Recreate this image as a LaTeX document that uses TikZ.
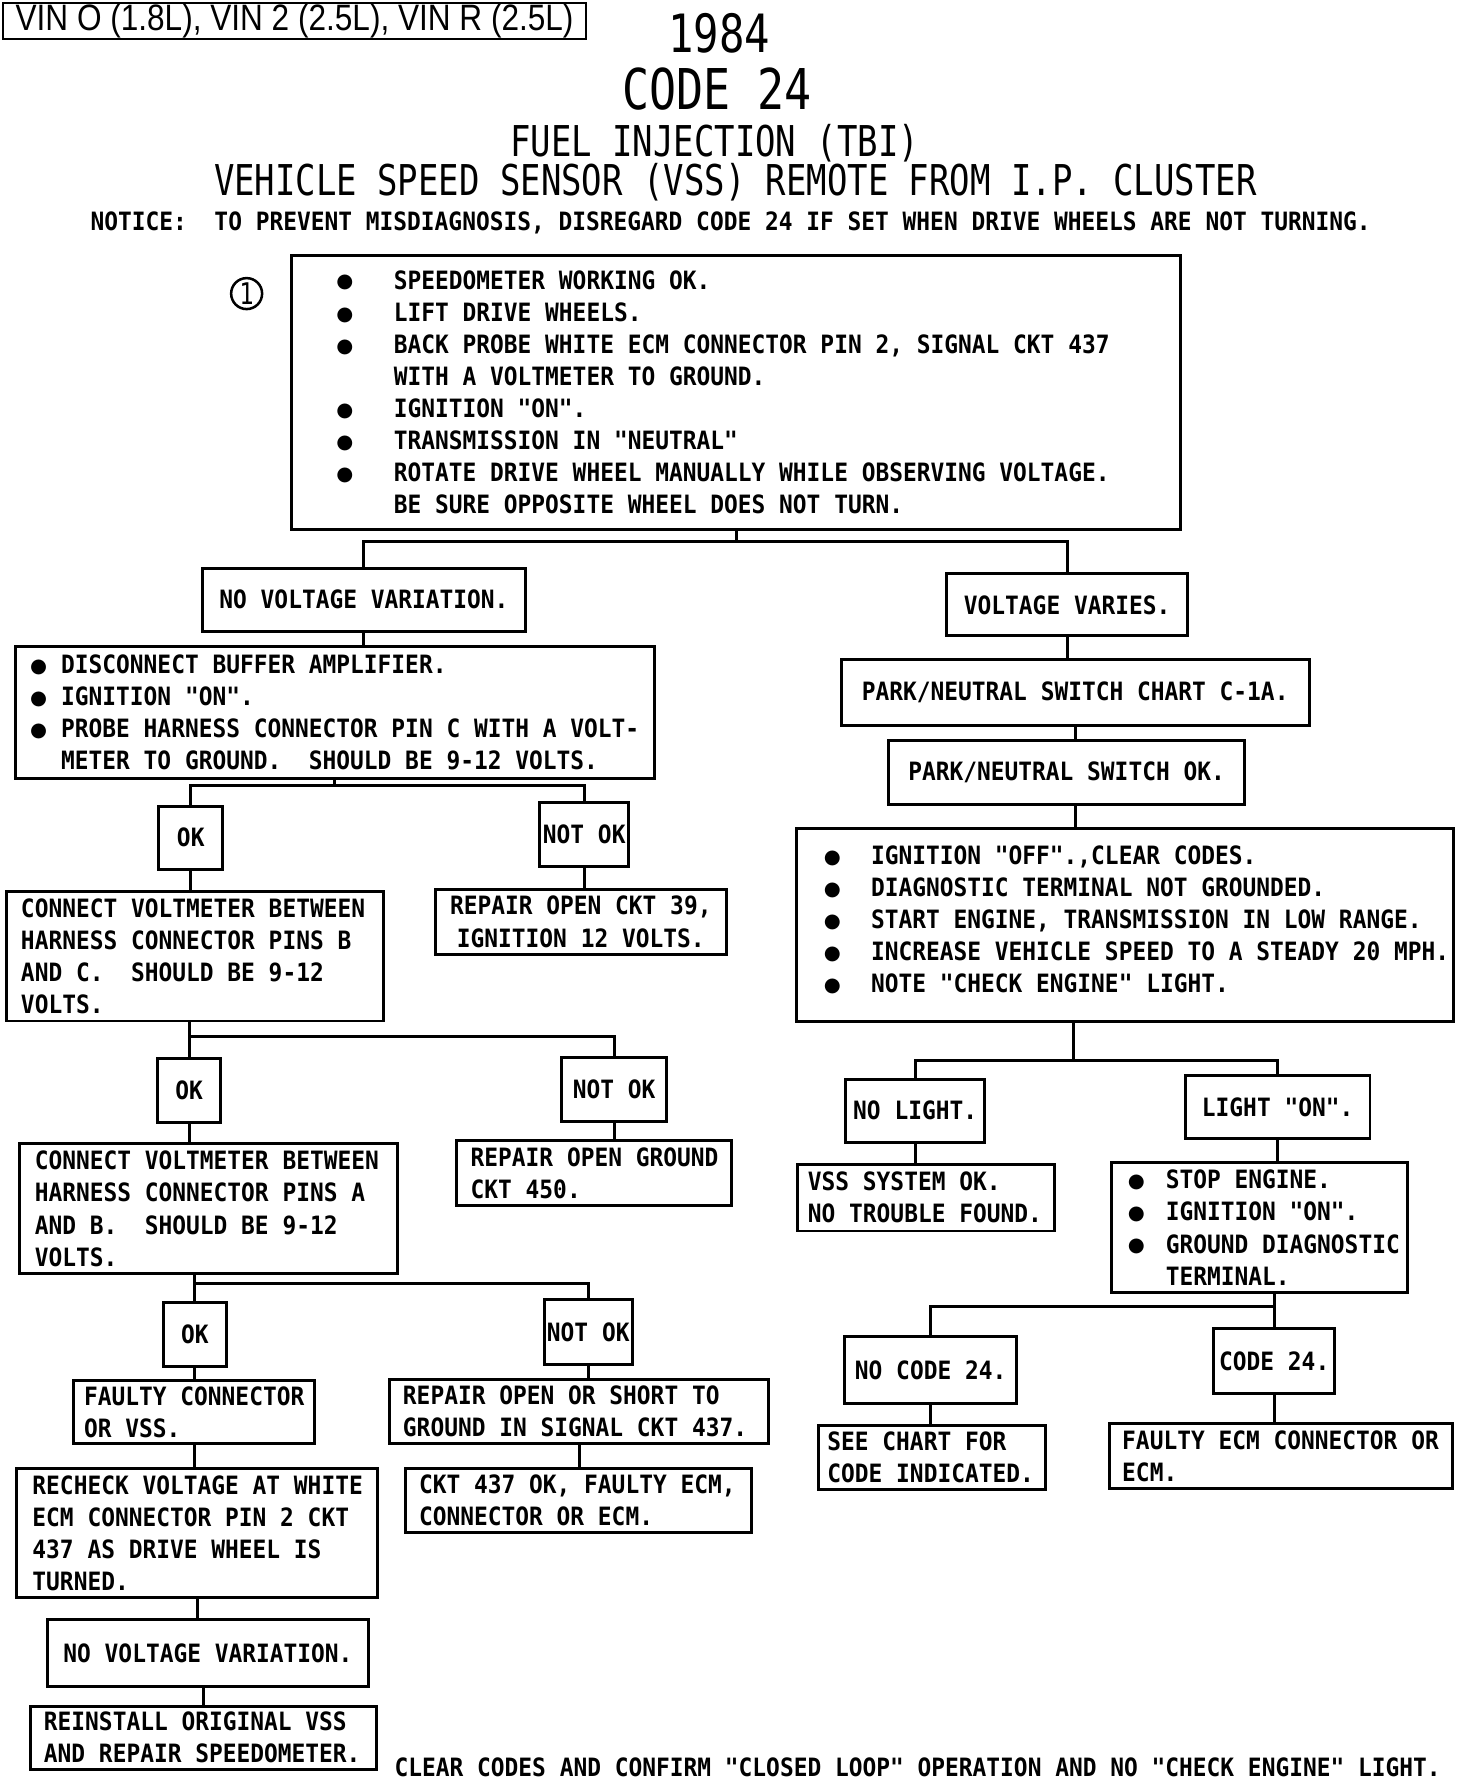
\documentclass[tikz,border=0pt]{standalone}
\usepackage{fontspec}
\usepackage{graphicx}
\newfontfamily\plotfont[FakeStretch=0.906]{DejaVu Sans Mono}
\newfontfamily\titlefont[FakeStretch=0.8]{DejaVu Sans Mono}
\newfontfamily\headfont[FakeStretch=0.86]{Liberation Sans}
\newfontfamily\symfont{DejaVu Sans}
\newcommand{\bodytext}{\plotfont\bfseries\fontsize{22}{28}\selectfont}
\newcommand{\bul}[2]{\makebox[#2][l]{\hspace*{#1}\raisebox{1pt}{\symfont\fontsize{17}{17}\selectfont ●}}}
\newcommand{\ind}[1]{\hspace*{#1}}

\begin{document}
\begin{tikzpicture}[x=1pt, y=-0.992pt]
	\tikzset{stepbox/.style = {draw, line width=2.6pt, anchor=north west, inner ysep=0pt, font=\bodytext,
			execute at begin node={\spaceskip=\fontdimen2\font\relax\xspaceskip=\fontdimen2\font\relax\rightskip=-12pt plus 1fil\relax}},
		listbox/.style = {stepbox, align=left},
		okbox/.style = {stepbox, inner xsep=2pt},
		link/.style = {line width=2.6pt}}
	\useasboundingbox (0,0) rectangle (1270,1566);

	% heading
	\node[draw, line width=1.6pt, anchor=north west, minimum width=508pt, minimum height=31pt, inner sep=0pt, font=\headfont\fontsize{32}{32}\selectfont] (vin) at (2,2) {VIN O (1.8L), VIN 2 (2.5L), VIN R (2.5L)};
	\node[font=\titlefont\fontsize{46}{46}\selectfont] (year) at (627,29) {1984};
	\node[font=\titlefont\fontsize{49}{49}\selectfont] (code24) at (625,78) {CODE 24};
	\node[font=\titlefont\fontsize{37}{37}\selectfont] (fuel) at (623,126) {FUEL INJECTION (TBI)};
	\node[font=\titlefont\fontsize{37}{37}\selectfont] (vss) at (641,160) {VEHICLE SPEED SENSOR (VSS) REMOTE FROM I.P. CLUSTER};
	\node[font=\bodytext] (notice) at (637,196) {NOTICE:\ \ TO PREVENT MISDIAGNOSIS, DISREGARD CODE 24 IF SET WHEN DRIVE WHEELS ARE NOT TURNING.};
	\node[circle, draw, line width=2.2pt, minimum size=27pt, inner sep=0pt, font=\titlefont\fontsize{26}{26}\selectfont] (one) at (215,258) {1};

	% left branch
	\node[listbox, minimum width=775pt, minimum height=239pt, inner xsep=8pt, text width=759pt] (start) at (253,223) {%
		\bul{31pt}{81pt}SPEEDOMETER WORKING OK.\\
		\bul{31pt}{81pt}LIFT DRIVE WHEELS.\\
		\bul{31pt}{81pt}BACK PROBE WHITE ECM CONNECTOR PIN 2, SIGNAL CKT 437\\
		\ind{81pt}WITH A VOLTMETER TO GROUND.\\
		\bul{31pt}{81pt}IGNITION "ON".\\
		\bul{31pt}{81pt}TRANSMISSION IN "NEUTRAL"\\
		\bul{31pt}{81pt}ROTATE DRIVE WHEEL MANUALLY WHILE OBSERVING VOLTAGE.\\
		\ind{81pt}BE SURE OPPOSITE WHEEL DOES NOT TURN.};
	\node[stepbox, minimum width=282pt, minimum height=55pt] (novara) at (175,498) {NO VOLTAGE VARIATION.};
	\node[listbox, minimum width=557pt, minimum height=115pt, inner xsep=6pt, text width=545pt] (probe) at (12,567) {%
		\bul{7pt}{34pt}DISCONNECT BUFFER AMPLIFIER.\\
		\bul{7pt}{34pt}IGNITION "ON".\\
		\bul{7pt}{34pt}PROBE HARNESS CONNECTOR PIN C WITH A VOLT-\\
		\ind{34pt}METER TO GROUND.\ \ SHOULD BE 9-12 VOLTS.};
	\node[okbox, minimum width=56pt, minimum height=55pt] (oka) at (137,707) {OK};
	\node[okbox, minimum width=78pt, minimum height=56pt] (nota) at (469,704) {NOT OK};
	\node[listbox, minimum width=329pt, minimum height=113pt, inner xsep=13pt, text width=303pt] (pinsbc) at (4,782) {%
		CONNECT VOLTMETER BETWEEN\\
		HARNESS CONNECTOR PINS B\\
		AND C.\ \ SHOULD BE 9-12\\
		VOLTS.};
	\node[stepbox, minimum width=254pt, minimum height=57pt, align=center] (ckta) at (378,780) {REPAIR OPEN CKT 39,\\IGNITION 12 VOLTS.};
	\node[okbox, minimum width=55pt, minimum height=56pt] (okb) at (136,929) {OK};
	\node[okbox, minimum width=92pt, minimum height=56pt] (notb) at (488,928) {NOT OK};
	\node[listbox, minimum width=329pt, minimum height=113pt, inner xsep=13pt, text width=303pt] (pinsab) at (16,1004) {%
		CONNECT VOLTMETER BETWEEN\\
		HARNESS CONNECTOR PINS A\\
		AND B.\ \ SHOULD BE 9-12\\
		VOLTS.};
	\node[listbox, minimum width=239pt, minimum height=57pt, inner xsep=12pt, text width=215pt] (cktb) at (397,1001) {REPAIR OPEN GROUND\\CKT 450.};
	\node[okbox, minimum width=55pt, minimum height=56pt] (okc) at (141,1143) {OK};
	\node[okbox, minimum width=77pt, minimum height=56pt] (notc) at (473,1141) {NOT OK};
	\node[listbox, minimum width=210pt, minimum height=55pt, inner xsep=9pt, text width=192pt] (faulty) at (63,1212) {FAULTY CONNECTOR\\OR VSS.};
	\node[listbox, minimum width=331pt, minimum height=56pt, inner xsep=12pt, text width=307pt] (shortgnd) at (338,1211) {REPAIR OPEN OR SHORT TO\\GROUND IN SIGNAL CKT 437.};
	\node[listbox, minimum width=315pt, minimum height=113pt, inner xsep=14pt, text width=287pt] (recheck) at (13,1289) {%
		RECHECK VOLTAGE AT WHITE\\
		ECM CONNECTOR PIN 2 CKT\\
		437 AS DRIVE WHEEL IS\\
		TURNED.};
	\node[listbox, minimum width=302pt, minimum height=56pt, inner xsep=12pt, text width=278pt] (ecma) at (352,1289) {CKT 437 OK, FAULTY ECM,\\CONNECTOR OR ECM.};
	\node[stepbox, minimum width=280pt, minimum height=58pt] (novarb) at (40,1422) {NO VOLTAGE VARIATION.};
	\node[listbox, minimum width=302pt, minimum height=55pt, inner xsep=12pt, text width=278pt] (reinstall) at (25,1498) {REINSTALL ORIGINAL VSS\\AND REPAIR SPEEDOMETER.};

	% right branch
	\node[stepbox, minimum width=210pt, minimum height=54pt] (varies) at (824,503) {VOLTAGE VARIES.};
	\node[stepbox, minimum width=408pt, minimum height=58pt] (chart) at (732,578) {PARK/NEUTRAL SWITCH CHART C-1A.};
	\node[stepbox, minimum width=311pt, minimum height=56pt] (pnok) at (773,649) {PARK/NEUTRAL SWITCH OK.};
	\node[listbox, minimum width=573pt, minimum height=168pt, inner xsep=3pt, text width=567pt, text height=16pt, text depth=122pt] (engine) at (693,727) {%
		\bul{21pt}{62pt}IGNITION "OFF".,CLEAR CODES.\\
		\bul{21pt}{62pt}DIAGNOSTIC TERMINAL NOT GROUNDED.\\
		\bul{21pt}{62pt}START ENGINE, TRANSMISSION IN LOW RANGE.\\
		\bul{21pt}{62pt}INCREASE VEHICLE SPEED TO A STEADY 20 MPH.\\
		\bul{21pt}{62pt}NOTE "CHECK ENGINE" LIGHT.};
	\node[stepbox, minimum width=121pt, minimum height=55pt] (nolight) at (736,947) {NO LIGHT.};
	\node[stepbox, minimum width=161pt, minimum height=55pt] (lighton) at (1032,944) {LIGHT "ON".};
	\node[listbox, minimum width=224pt, minimum height=58pt, inner xsep=9pt, text width=206pt] (vssok) at (694,1022) {VSS SYSTEM OK.\\NO TROUBLE FOUND.};
	\node[listbox, minimum width=258pt, minimum height=114pt, inner xsep=6pt, text width=246pt] (stopeng) at (968,1020) {%
		\bul{8pt}{41pt}STOP ENGINE.\\
		\bul{8pt}{41pt}IGNITION "ON".\\
		\bul{8pt}{41pt}GROUND DIAGNOSTIC\\
		\ind{41pt}TERMINAL.};
	\node[stepbox, minimum width=150pt, minimum height=59pt] (nocode) at (735,1173) {NO CODE 24.};
	\node[stepbox, minimum width=105pt, minimum height=57pt] (code) at (1057,1166) {CODE 24.};
	\node[listbox, minimum width=198pt, minimum height=56pt, inner xsep=8pt, text width=182pt] (seechart) at (712,1251) {SEE CHART FOR\\CODE INDICATED.};
	\node[listbox, minimum width=299pt, minimum height=56pt, inner xsep=11pt, text width=277pt] (faultyecm) at (966,1250) {FAULTY ECM CONNECTOR OR\\ECM.};

	\node[font=\bodytext] (clear) at (800,1553) {CLEAR CODES AND CONFIRM "CLOSED LOOP" OPERATION AND NO "CHECK ENGINE" LIGHT.};

	% junctions
	\coordinate (s1) at (641,476);
	\coordinate (s2) at (290,690);
	\coordinate (s3) at (164,911);
	\coordinate (s4) at (169,1128);
	\coordinate (s6) at (936,932);
	\coordinate (s7) at (1102,1148);

	\draw[link] (start.south) -- (start.south |- s1) -| (novara.north);
	\draw[link] (start.south |- s1) -| (varies.north);
	\draw[link] (novara.south) -- (novara.south |- probe.north);
	\draw[link] (probe.south) -- (probe.south |- s2) -| (oka.north);
	\draw[link] (probe.south |- s2) -| (nota.north);
	\draw[link] (oka.south) -- (oka.south |- pinsbc.north);
	\draw[link] (nota.south) -- (nota.south |- ckta.north);
	\draw[link] (okb.north) -- (okb.north |- pinsbc.south);
	\draw[link] (okb.north |- s3) -| (notb.north);
	\draw[link] (okb.south) -- (okb.south |- pinsab.north);
	\draw[link] (notb.south) -- (notb.south |- cktb.north);
	\draw[link] (okc.north) -- (okc.north |- pinsab.south);
	\draw[link] (okc.north |- s4) -| (notc.north);
	\draw[link] (okc.south) -- (okc.south |- faulty.north);
	\draw[link] (notc.south) -- (notc.south |- shortgnd.north);
	\draw[link] (faulty.south) -- (faulty.south |- recheck.north);
	\draw[link] (shortgnd.south) -- (shortgnd.south |- ecma.north);
	\draw[link] (recheck.south) -- (recheck.south |- novarb.north);
	\draw[link] (reinstall.north) -- (reinstall.north |- novarb.south);

	\draw[link] (varies.south) -- (varies.south |- chart.north);
	\draw[link] (chart.south) -- (chart.south |- pnok.north);
	\draw[link] (chart.south |- pnok.south) -- (chart.south |- engine.north);
	\draw[link] (engine.south -| s6) -- (s6);
	\draw[link] (nolight.north) |- (s6) -| (lighton.north);
	\draw[link] (nolight.south) -- (nolight.south |- vssok.north);
	\draw[link] (lighton.south) -- (lighton.south |- stopeng.north);
	\draw[link] (code.north) -- (code.north |- stopeng.south);
	\draw[link] (code.north |- s7) -| (nocode.north);
	\draw[link] (nocode.south) -- (nocode.south |- seechart.north);
	\draw[link] (code.south) -- (code.south |- faultyecm.north);

\end{tikzpicture}
\end{document}
